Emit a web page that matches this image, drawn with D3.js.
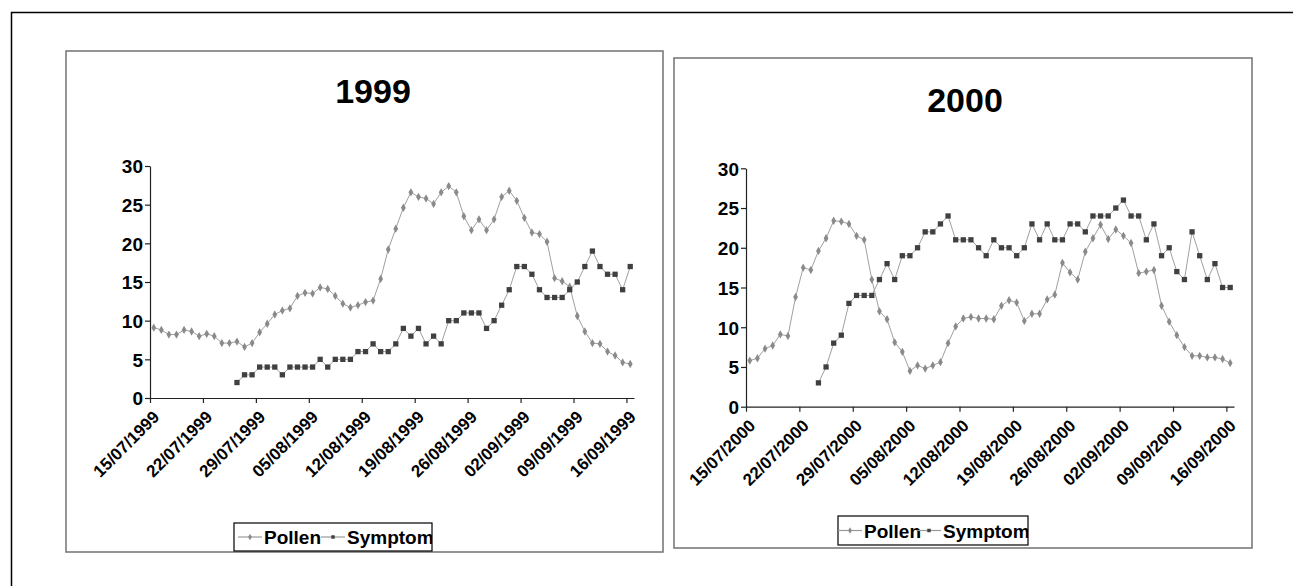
<!DOCTYPE html>
<html>
<head>
<meta charset="utf-8">
<script src="https://cdn.jsdelivr.net/npm/d3@7"></script>
<style>
body { margin: 0; background: #fff; }
text { font-family: "Liberation Sans", Arial, sans-serif; font-weight: bold; fill: #000; }
</style>
</head>
<body>
<svg id="chart" width="1293" height="586"></svg>
<script>
// daily values, first value = 15/07 of each year
const pollen1999 = [9.1, 8.8, 8.2, 8.2, 8.8, 8.6, 8.0, 8.3, 8.0, 7.1,
  7.1, 7.3, 6.6, 7.1, 8.5, 9.6, 10.8, 11.3, 11.6, 13.2,
  13.6, 13.5, 14.3, 14.1, 13.2, 12.2, 11.7, 12.0, 12.4, 12.6,
  15.4, 19.2, 21.9, 24.6, 26.6, 26.0, 25.8, 25.1, 26.6, 27.4,
  26.6, 23.5, 21.7, 23.1, 21.7, 23.1, 26.0, 26.8, 25.5, 23.3,
  21.4, 21.2, 20.2, 15.5, 15.1, 14.4, 10.6, 8.6, 7.1, 7.0,
  6.0, 5.5, 4.6, 4.4];
const symptom1999 = [null, null, null, null, null, null, null, null, null, null,
  null, 2, 3, 3, 4, 4, 4, 3, 4, 4,
  4, 4, 5, 4, 5, 5, 5, 6, 6, 7,
  6, 6, 7, 9, 8, 9, 7, 8, 7, 10,
  10, 11, 11, 11, 9, 10, 12, 14, 17, 17,
  16, 14, 13, 13, 13, 14, 15, 17, 19, 17,
  16, 16, 14, 17];
const pollen2000 = [5.8, 6.1, 7.3, 7.7, 9.1, 8.9, 13.8, 17.5, 17.2, 19.6,
  21.2, 23.4, 23.3, 23.0, 21.5, 21.0, 16.0, 12.0, 11.0, 8.1,
  6.9, 4.5, 5.2, 4.8, 5.2, 5.6, 8.0, 10.1, 11.1, 11.3,
  11.1, 11.1, 11.0, 12.7, 13.4, 13.1, 10.8, 11.7, 11.7, 13.5,
  14.1, 18.1, 16.9, 16.0, 19.5, 21.2, 22.9, 21.1, 22.3, 21.5,
  20.6, 16.8, 17.0, 17.2, 12.7, 10.7, 9.0, 7.5, 6.4, 6.4,
  6.2, 6.2, 6.0, 5.5];
const symptom2000 = [null, null, null, null, null, null, null, null, null, 3,
  5, 8, 9, 13, 14, 14, 14, 16, 18, 16,
  19, 19, 20, 22, 22, 23, 24, 21, 21, 21,
  20, 19, 21, 20, 20, 19, 20, 23, 21, 23,
  21, 21, 23, 23, 22, 24, 24, 24, 25, 26,
  24, 24, 21, 23, 19, 20, 17, 16, 22, 19,
  16, 18, 15, 15];

const ticks1999 = ["15/07/1999", "22/07/1999", "29/07/1999", "05/08/1999", "12/08/1999",
  "19/08/1999", "26/08/1999", "02/09/1999", "09/09/1999", "16/09/1999"];
const ticks2000 = ["15/07/2000", "22/07/2000", "29/07/2000", "05/08/2000", "12/08/2000",
  "19/08/2000", "26/08/2000", "02/09/2000", "09/09/2000", "16/09/2000"];
const yTicks = [0, 5, 10, 15, 20, 25, 30];
const seriesNames = ["Pollen", "Symptom"];

const parseDate = d3.timeParse("%d/%m/%Y");
const svg = d3.select("#chart");

// outer frame (only top and left edges show)
svg.append("path")
  .attr("d", "M11.5,600 V12.5 H1300")
  .attr("fill", "none")
  .attr("stroke", "#000")
  .attr("stroke-width", 1.5);

function drawPanel(p, idx) {
  const g = svg.append("g");

  g.append("rect")
    .attr("x", p.box[0]).attr("y", p.box[1])
    .attr("width", p.box[2]).attr("height", p.box[3])
    .attr("fill", "#fff")
    .attr("stroke", "#7a7a7a")
    .attr("stroke-width", 1.6);

  g.append("text")
    .attr("x", p.titleX).attr("y", p.titleY)
    .attr("text-anchor", "middle")
    .style("font-size", "34px")
    .text(p.title);

  const start = parseDate(p.ticks[0]);
  const dates = p.pollen.map((v, i) => d3.timeHour.offset(d3.timeDay.offset(start, i), 12));

  const x = d3.scaleTime()
    .domain([start, d3.timeDay.offset(start, 64)])
    .range([p.left, p.right]);
  const y = d3.scaleLinear().domain([0, 30]).range([p.bottom, p.top]);

  const yAxis = g.append("g")
    .attr("transform", `translate(${p.left},0)`)
    .call(d3.axisLeft(y).tickValues(yTicks).tickSize(5).tickSizeOuter(0).tickPadding(2));
  yAxis.selectAll("text").style("font-size", "19px").attr("dy", "0.36em");

  const xAxis = g.append("g")
    .attr("transform", `translate(0,${p.bottom})`)
    .call(d3.axisBottom(x)
      .tickValues(p.ticks.map(parseDate))
      .tickSize(5).tickSizeOuter(0)
      .tickFormat(d3.timeFormat("%d/%m/%Y")));
  xAxis.selectAll("text")
    .style("font-size", "17px")
    .attr("text-anchor", "end")
    .attr("x", 0).attr("y", 0).attr("dy", 0)
    .attr("transform", "translate(10,20) rotate(-45)");

  [yAxis, xAxis].forEach(a => {
    a.select(".domain").attr("stroke", "#222").attr("stroke-width", 1.2);
    a.selectAll(".tick line").attr("stroke", "#222").attr("stroke-width", 1.2);
  });

  const series = [
    { values: p.pollen, marker: d3.symbolDiamond, size: 20, fill: "#8a8a8a" },
    { values: p.symptom, marker: d3.symbolSquare, size: 28, fill: "#404040" }
  ];

  series.forEach(s => {
    const pts = s.values.map((v, i) => ({ d: dates[i], v: v })).filter(o => o.v !== null);
    const line = d3.line().x(o => x(o.d)).y(o => y(o.v));
    g.append("path")
      .attr("d", line(pts))
      .attr("fill", "none")
      .attr("stroke", "#a0a0a0")
      .attr("stroke-width", 1);
    g.append("g").selectAll("path")
      .data(pts)
      .join("path")
      .attr("transform", o => `translate(${x(o.d)},${y(o.v)})`)
      .attr("d", d3.symbol(s.marker, s.size))
      .attr("fill", s.fill);
  });

  // legend
  const lg = p.legend;
  const clipId = "legclip" + idx;
  g.append("clipPath").attr("id", clipId)
    .append("rect").attr("x", lg.x).attr("y", lg.y).attr("width", lg.w).attr("height", lg.h);
  g.append("rect")
    .attr("x", lg.x).attr("y", lg.y).attr("width", lg.w).attr("height", lg.h)
    .attr("fill", "#fff").attr("stroke", "#000").attr("stroke-width", 1.2);
  const cy = lg.y + lg.h / 2;
  const leg = g.append("g").attr("clip-path", `url(#${clipId})`);
  seriesNames.forEach((name, i) => {
    const lx = lg.x + lg.items[i];
    leg.append("line")
      .attr("x1", lx).attr("x2", lx + 24).attr("y1", cy).attr("y2", cy)
      .attr("stroke", "#9a9a9a").attr("stroke-width", 1.2);
    leg.append("path")
      .attr("transform", `translate(${lx + 12},${cy})`)
      .attr("d", d3.symbol(series[i].marker, 12))
      .attr("fill", series[i].fill);
    leg.append("text")
      .attr("x", lx + 26).attr("y", cy + 7)
      .style("font-size", "19px")
      .text(name);
  });
}

drawPanel({
  box: [66, 51, 597, 501], title: "1999", titleX: 373, titleY: 103,
  left: 150, right: 634, top: 166, bottom: 398,
  pollen: pollen1999, symptom: symptom1999, ticks: ticks1999,
  legend: { x: 234, y: 523, w: 198, h: 28, items: [4, 87] }
}, 0);

drawPanel({
  box: [674, 58, 578, 490], title: "2000", titleX: 965, titleY: 112,
  left: 746, right: 1234, top: 168.3, bottom: 406.7,
  pollen: pollen2000, symptom: symptom2000, ticks: ticks2000,
  legend: { x: 838, y: 516, w: 190, h: 29, items: [0, 79] }
}, 1);
</script>
</body>
</html>
